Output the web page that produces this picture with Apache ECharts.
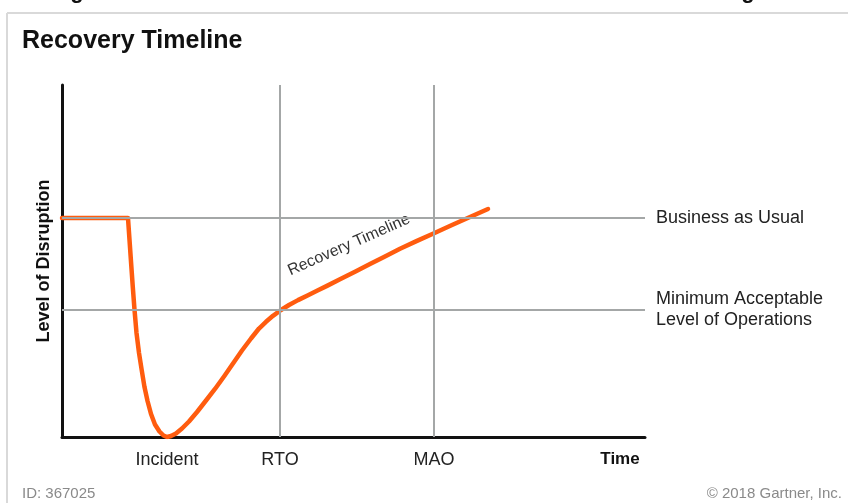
<!DOCTYPE html>
<html>
<head>
<meta charset="utf-8">
<title>Recovery Timeline</title>
<script src="https://cdn.jsdelivr.net/npm/echarts@6/dist/echarts.min.js"></script>
<style>
  html, body { margin: 0; padding: 0; background: #ffffff; }
  #chart { width: 848px; height: 503px; }
</style>
</head>
<body>
<div id="chart"></div>
<script>
// Milestones along the time axis (0–100 scale)
const milestoneNames = ['Incident', 'RTO', 'MAO'];
const milestoneTimes = [18.0, 37.4, 63.8];

// Reference levels of operation (0–100 scale)
const levelNames = ['Business as Usual', 'Minimum Acceptable\nLevel of Operations'];
const levelValues = [62.2, 36.1];

// Recovery curve: time vs. level
const curveTime = [
  0, 11.32, 11.58, 11.84, 12.13, 12.44, 12.78, 13.21, 13.67, 14.15, 14.67, 15.27,
  15.95, 16.72, 17.41, 18.0, 18.70, 19.55, 20.58, 21.78, 23.16, 24.70, 26.24, 27.79,
  29.33, 30.87, 32.42, 33.79, 34.99, 36.19, 37.56, 38.94, 40.48, 42.20, 43.91, 45.45,
  47.68, 50.26, 52.83, 55.40, 57.98, 60.89, 63.81, 66.90, 69.98, 73.07
];
const curveLevel = [
  62.2, 62.2, 55.97, 49.72, 42.9, 36.08, 29.55, 23.86, 19.03, 14.2, 10.23, 6.53,
  3.55, 1.56, 0.43, 0.0, 0.28, 0.99, 2.41, 4.4, 7.1, 10.37, 13.64, 17.19,
  20.88, 24.57, 27.98, 30.82, 32.73, 34.43, 36.08, 37.5, 38.89, 40.28, 41.68, 42.93,
  44.8, 46.96, 49.15, 51.31, 53.47, 55.71, 57.9, 60.23, 62.5, 64.77
];

const curveData = curveTime.map((t, i) => [t, curveLevel[i]]);
const FONT = 'Liberation Sans, Arial, Helvetica, sans-serif';
const ORANGE = '#ff5c0f';
const GRID_GRAY = '#a4a7a7';

const chart = echarts.init(document.getElementById('chart'), null, { renderer: 'canvas' });

const option = {
  backgroundColor: '#ffffff',
  animation: false,
  title: {
    text: 'Recovery Timeline',
    left: 17,
    top: 24,
    textStyle: { fontFamily: FONT, fontSize: 25, fontWeight: 'bold', color: '#111111' }
  },
  grid: { left: 62, right: 203, top: 85, bottom: 66 },
  xAxis: {
    type: 'value',
    min: 0,
    max: 100,
    name: 'Time',
    nameLocation: 'end',
    nameGap: -25,
    nameTextStyle: {
      fontFamily: FONT, fontSize: 17, fontWeight: 'bold', color: '#111111',
      align: 'center', verticalAlign: 'top', padding: [14, 0, 0, 0]
    },
    axisLine: { show: true, onZero: false, lineStyle: { color: '#111111', width: 3 } },
    axisTick: { show: false },
    splitLine: { show: false },
    axisLabel: {
      customValues: milestoneTimes,
      margin: 14,
      fontFamily: FONT,
      fontSize: 18,
      color: '#222222',
      formatter: (v) => {
        const i = milestoneTimes.indexOf(v);
        return i >= 0 ? milestoneNames[i] : '';
      }
    }
  },
  yAxis: {
    type: 'value',
    min: 0,
    max: 100,
    name: 'Level of Disruption',
    nameLocation: 'middle',
    nameRotate: 90,
    nameGap: 9,
    nameTextStyle: { fontFamily: FONT, fontSize: 18, fontWeight: 'bold', color: '#111111' },
    axisLine: { show: true, onZero: false, lineStyle: { color: '#111111', width: 3 } },
    axisTick: { show: false },
    axisLabel: { show: false },
    splitLine: { show: false }
  },
  series: [
    {
      // reference lines for levels and milestones
      type: 'line',
      data: [],
      z: 1,
      markLine: {
        silent: true,
        symbol: ['none', 'none'],
        animation: false,
        lineStyle: { color: GRID_GRAY, width: 2, type: 'solid' },
        label: {
          position: 'end',
          distance: 11,
          fontFamily: FONT,
          fontSize: 18,
          color: '#222222',
          lineHeight: 21,
          align: 'left'
        },
        data: levelValues.map((v, i) => ({ yAxis: v, label: { formatter: levelNames[i] } }))
          .concat(milestoneTimes.slice(1).map((t) => ({ xAxis: t, label: { show: false } })))
      }
    },
    {
      name: 'Recovery Timeline',
      type: 'line',
      z: 3,
      data: curveData,
      showSymbol: false,
      smooth: false,
      lineStyle: { color: ORANGE, width: 4.5, cap: 'round', join: 'round' },
      itemStyle: { color: ORANGE }
    }
  ],
  graphic: [
    // light frame around the figure
    { type: 'line', shape: { x1: 7, y1: 13, x2: 848, y2: 13 }, style: { stroke: '#d9d9d9', lineWidth: 2 }, silent: true },
    { type: 'line', shape: { x1: 7, y1: 13, x2: 7, y2: 503 }, style: { stroke: '#d9d9d9', lineWidth: 2 }, silent: true },
    // descenders of the heading line above the frame
    { type: 'text', x: 77, y: -8, style: { text: 'g', font: 'bold 22px ' + FONT, fill: '#111111', align: 'center', verticalAlign: 'middle' }, silent: true },
    { type: 'text', x: 748, y: -8, style: { text: 'g', font: 'bold 22px ' + FONT, fill: '#111111', align: 'center', verticalAlign: 'middle' }, silent: true },
    // label following the recovery curve
    {
      type: 'text',
      x: 349, y: 245,
      rotation: 0.414,
      style: { text: 'Recovery Timeline', font: '16px ' + FONT, fill: '#333333', align: 'center', verticalAlign: 'middle' },
      silent: true
    },
    // footer
    {
      type: 'text', left: 22, top: 486,
      style: { text: 'ID: 367025', font: '15px ' + FONT, fill: '#8a8a8a' }, silent: true
    },
    {
      type: 'text', right: 6, top: 486,
      style: { text: '\u00a9 2018 Gartner, Inc.', font: '15px ' + FONT, fill: '#8a8a8a' }, silent: true
    }
  ]
};

chart.setOption(option);
</script>
</body>
</html>
